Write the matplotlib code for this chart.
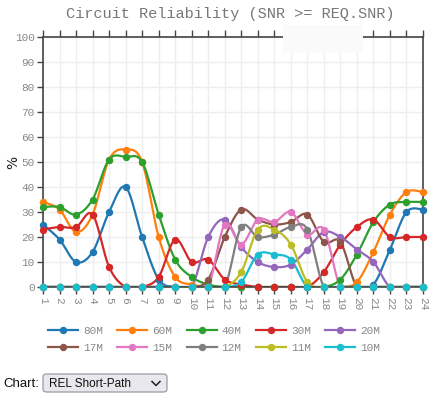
import numpy as np
import matplotlib
matplotlib.use("Agg")
import matplotlib.pyplot as plt
from matplotlib.lines import Line2D
from matplotlib.patches import FancyBboxPatch, Rectangle

hours = list(range(1, 25))
bands = ["80M", "60M", "40M", "30M", "20M", "17M", "15M", "12M", "11M", "10M"]
colors = ["#1f77b4", "#ff7f0e", "#2ca02c", "#d62728", "#9467bd",
          "#8c564b", "#e377c2", "#7f7f7f", "#bcbd22", "#17becf"]

rel_80m = [25, 19, 10, 14, 30, 40, 20, 3, 0, 0, 0, 0, 0, 0, 0, 0, 0, 0, 0, 0, 1, 15, 30, 31]
rel_60m = [34, 31, 22, 29, 51, 55, 50, 20, 4, 1, 0, 0, 0, 0, 0, 0, 0, 0, 0, 2, 14, 29, 38, 38]
rel_40m = [32, 32, 29, 35, 51, 52, 50, 29, 11, 4, 1, 0, 0, 0, 0, 0, 0, 0, 3, 13, 26, 33, 34, 34]
rel_30m = [23, 24, 24, 29, 8, 0, 0, 4, 19, 10, 11, 3, 1, 0, 0, 0, 0, 6, 17, 24, 27, 20, 20, 20]
rel_20m = [0, 0, 0, 0, 0, 0, 0, 0, 0, 0, 20, 27, 16, 10, 8, 9, 15, 22, 20, 15, 10, 0, 0, 0]
rel_17m = [0, 0, 0, 0, 0, 0, 0, 0, 0, 0, 3, 20, 31, 27, 25, 26, 29, 18, 18, 0, 0, 0, 0, 0]
rel_15m = [0, 0, 0, 0, 0, 0, 0, 0, 0, 0, 0, 25, 17, 27, 26, 30, 21, 23, 0, 0, 0, 0, 0, 0]
rel_12m = [0, 0, 0, 0, 0, 0, 0, 0, 0, 0, 0, 0, 24, 20, 21, 24, 23, 0, 0, 0, 0, 0, 0, 0]
rel_11m = [0, 0, 0, 0, 0, 0, 0, 0, 0, 0, 0, 0, 6, 23, 23, 17, 2, 0, 0, 0, 0, 0, 0, 0]
rel_10m = [0, 0, 0, 0, 0, 0, 0, 0, 0, 0, 0, 0, 2, 13, 13, 11, 0, 0, 0, 0, 0, 0, 0, 0]
series = [rel_80m, rel_60m, rel_40m, rel_30m, rel_20m,
          rel_17m, rel_15m, rel_12m, rel_11m, rel_10m]


def smooth(x, y, n=20, t=1 / 6):
    # catmull-rom style bezier through the points, like a spline line shape
    x = np.asarray(x, float)
    y = np.asarray(y, float)
    px = np.concatenate([[x[0]], x, [x[-1]]])
    py = np.concatenate([[y[0]], y, [y[-1]]])
    xs, ys = [], []
    s = np.linspace(0, 1, n, endpoint=False)
    for i in range(1, len(px) - 2):
        p0 = np.array([px[i], py[i]])
        p1 = np.array([px[i + 1], py[i + 1]])
        c1 = p0 + (p1 - np.array([px[i - 1], py[i - 1]])) * t
        c2 = p1 - (np.array([px[i + 2], py[i + 2]]) - p0) * t
        b = ((1 - s) ** 3)[:, None] * p0 + (3 * (1 - s) ** 2 * s)[:, None] * c1 \
            + (3 * (1 - s) * s ** 2)[:, None] * c2 + (s ** 3)[:, None] * p1
        xs.extend(b[:, 0])
        ys.extend(b[:, 1])
    xs.append(x[-1])
    ys.append(y[-1])
    return np.array(xs), np.array(ys)


mono = "Liberation Mono"
grey = "#888888"

fig = plt.figure(figsize=(4.35, 3.99), dpi=100)
ax = fig.add_axes([43 / 435, 112 / 399, 380 / 435, 250 / 399])

for vals, c in zip(series, colors):
    sx, sy = smooth(hours, vals)
    ax.plot(sx, sy, color=c, lw=1.6, solid_capstyle="round", zorder=2)
    ax.plot(hours, vals, "o", color=c, ms=4.3, clip_on=False, zorder=3)

ax.set_xlim(1, 24)
ax.set_ylim(0, 100)
ax.set_xticks(hours)
ax.set_xticklabels([str(h) for h in hours], rotation=-90, fontfamily=mono,
                   fontsize=8, color=grey, va="top")
ax.set_yticks(range(0, 101, 10))
ax.set_yticklabels([str(v) for v in range(0, 101, 10)], fontfamily=mono,
                   fontsize=8, color=grey)
ax.tick_params(axis="x", length=5, width=1, color="#444444", pad=2,
               top=True)
ax.tick_params(axis="y", length=4, width=1, color="#444444", pad=2)
ax.grid(True, color="#eeeeee", lw=1, zorder=0)
ax.set_axisbelow(True)
for sp in ax.spines.values():
    sp.set_color("#444444")
    sp.set_linewidth(1.2)
ax.set_ylabel("%", fontsize=10, color="#222222", va="center")
ax.yaxis.set_label_coords(-30 / 380, 0.5)

fig.text(230 / 435, 1 - 14 / 399, "Circuit Reliability (SNR >= REQ.SNR)",
         fontfamily=mono, fontsize=11, color="#777777", ha="center", va="center")
fig.patches.append(Rectangle((283 / 435, 1 - 53 / 399), 80 / 435, 28 / 399,
                             transform=fig.transFigure, facecolor="#fafafa",
                             edgecolor="none", zorder=0))

# legend fills column by column, so interleave to get rows of five
order = [0, 5, 1, 6, 2, 7, 3, 8, 4, 9]
handles = [Line2D([], [], color=colors[i], lw=1.6, marker="o", ms=4.3) for i in order]
labels = [bands[i] for i in order]
leg = fig.legend(handles, labels, ncol=5, loc="upper left",
                 bbox_to_anchor=(38 / 435, 1 - 316 / 399), frameon=False,
                 prop={"family": mono, "size": 8}, handlelength=2.7,
                 handletextpad=0.45, columnspacing=1.3, labelspacing=0.6)
for t in leg.get_texts():
    t.set_color(grey)

fig.text(3 / 435, 1 - 384 / 399, "Chart:", fontfamily="Liberation Sans",
         fontsize=9.5, color="#111111", ha="left", va="center")
fig.patches.append(FancyBboxPatch((43 / 435, 1 - 392 / 399), 124 / 435, 18 / 399,
                                  boxstyle="round,pad=0,rounding_size=0.008",
                                  transform=fig.transFigure, facecolor="#e9e9ed",
                                  edgecolor="#8f8f9d", lw=0.8))
fig.text(49 / 435, 1 - 384 / 399, "REL Short-Path", fontfamily="Liberation Sans",
         fontsize=8.5, color="#111111", ha="left", va="center")
fig.lines.append(Line2D([152 / 435, 156 / 435, 160 / 435],
                        [1 - 381.5 / 399, 1 - 385.5 / 399, 1 - 381.5 / 399],
                        transform=fig.transFigure, color="#222222", lw=1.1))

fig.savefig("out.png", dpi=100)
